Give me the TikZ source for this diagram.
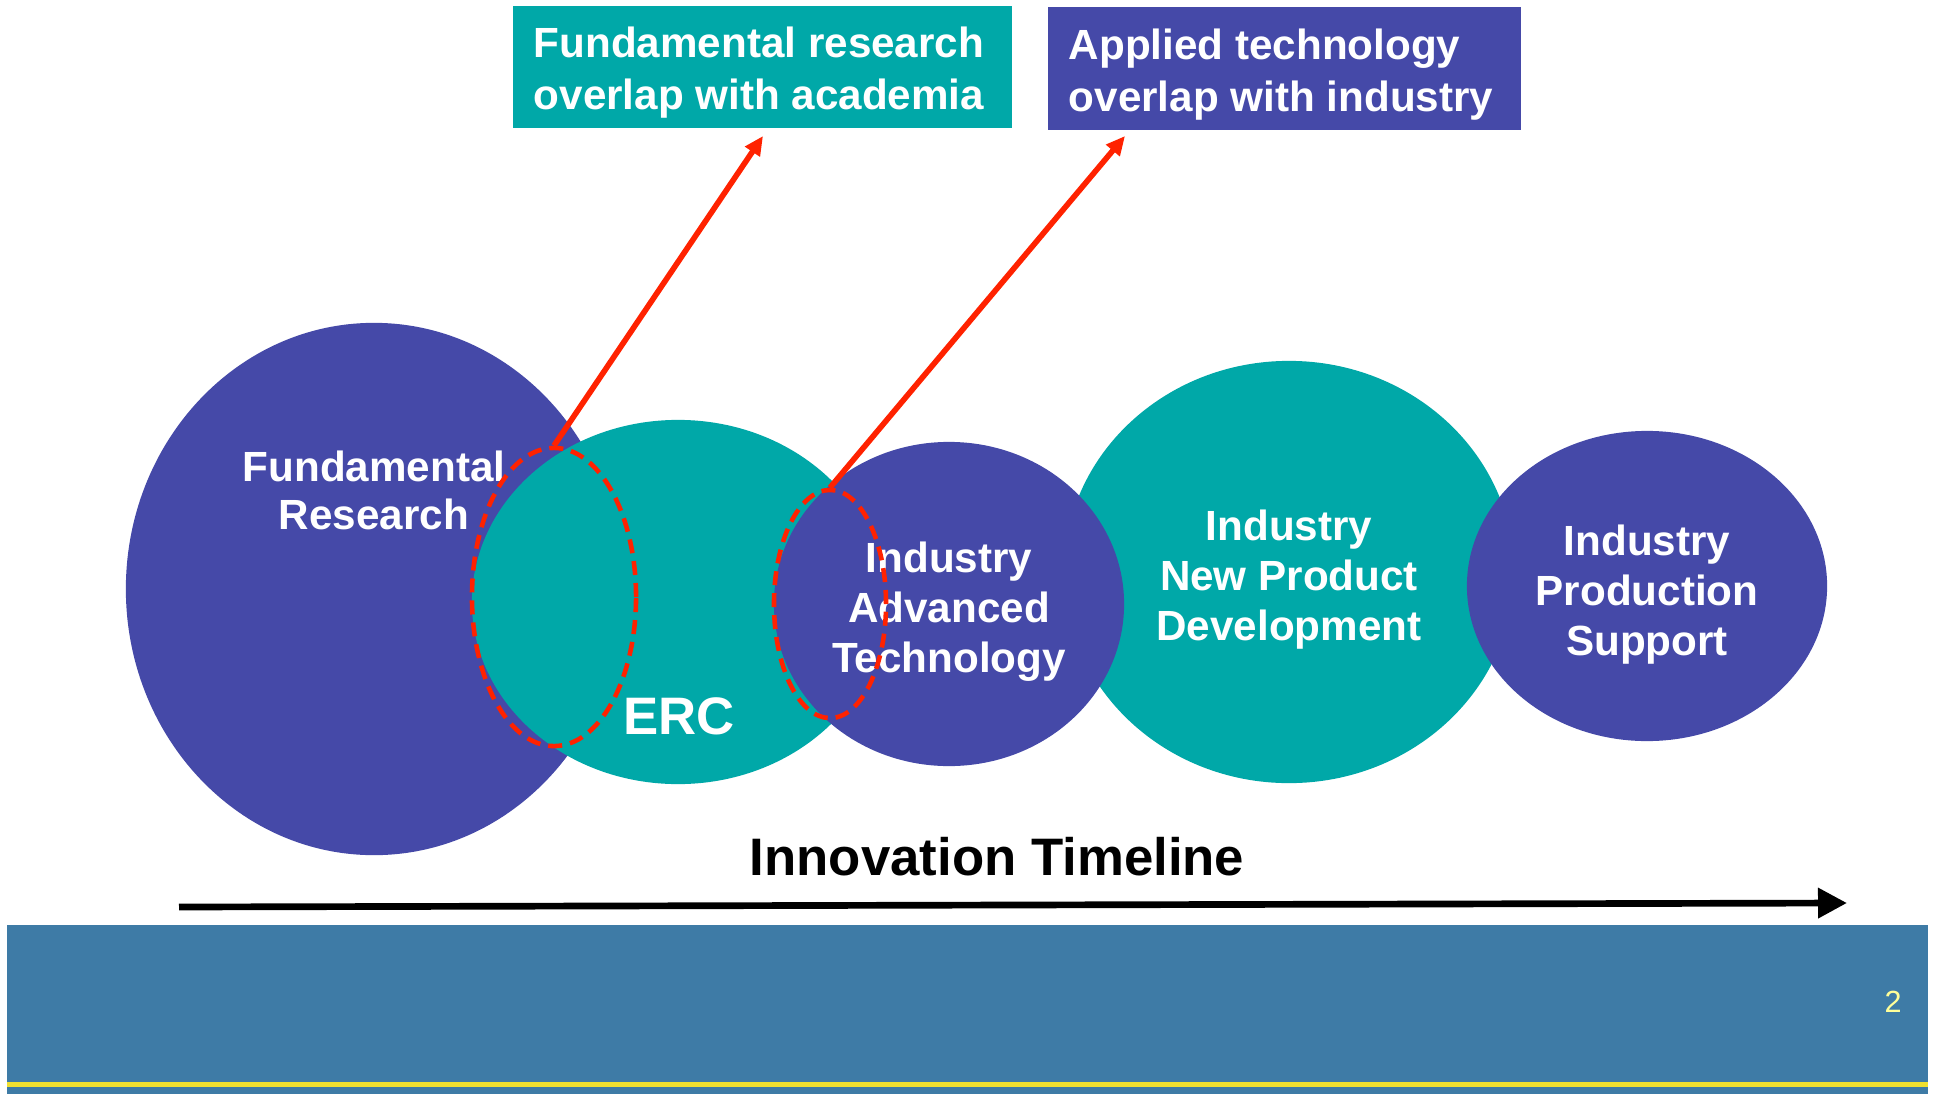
\documentclass[tikz,border=0pt]{standalone}
\usepackage{fontspec}
\setmainfont{Liberation Sans}
\usepackage{tikz}
\usepackage{xcolor}
\usetikzlibrary{arrows.meta, positioning, shapes.geometric}

\definecolor{erpurple}{RGB}{69,73,168}
\definecolor{erteal}{RGB}{0,168,168}
\definecolor{erred}{RGB}{255,34,0}
\definecolor{bandblue}{RGB}{62,123,166}
\definecolor{bandyellow}{RGB}{240,224,48}
\definecolor{pageyellow}{RGB}{255,255,153}

\begin{document}
\begin{tikzpicture}[
  x=0.01cm, y=-0.01cm,
  blob/.style={ellipse, inner sep=0pt},
  tag/.style={text=white, align=center, font=\fontsize{12}{14.2}\selectfont\bfseries},
  zone/.style={ellipse, draw=erred, line width=1.3pt, dash pattern=on 0.14cm off 0.08cm, inner sep=0pt},
  notebox/.style={rectangle, inner sep=0pt, minimum height=1.22cm},
  notetext/.style={text=white, align=left, font=\fontsize{12}{14.8}\selectfont\bfseries},
  redarrow/.style={-{Triangle[length=0.19cm, width=0.17cm]}, erred, line width=1.6pt},
]

\useasboundingbox (0,0) rectangle (1937,1094);

% stages
\node[blob, fill=erpurple, minimum width=4.96cm, minimum height=5.32cm] (fundamental) at (374,589) {};
\node[blob, fill=erteal, minimum width=4.12cm, minimum height=3.64cm] (erc) at (678,602) {};
\node[blob, fill=erteal, minimum width=4.50cm, minimum height=4.22cm] (npd) at (1289,572) {};
\node[blob, fill=erpurple, minimum width=3.50cm, minimum height=3.24cm] (advanced) at (949,604) {};
\node[blob, fill=erpurple, minimum width=3.60cm, minimum height=3.10cm] (production) at (1647,586) {};

\node[tag, font=\fontsize{12}{13.7}\selectfont\bfseries] (fundamental label) at (374,490) {Fundamental\\Research};
\node[tag, font=\fontsize{15}{18}\selectfont\bfseries] (erc label) at (679,716) {ERC};
\node[tag] (npd label) at (1289,579.5) {Industry\\New Product\\Development};
\node[tag] (advanced label) at (949,611.5) {Industry\\Advanced\\Technology};
\node[tag] (production label) at (1647,594.5) {Industry\\Production\\Support};

% overlap zones
\node[zone, minimum width=1.64cm, minimum height=2.98cm] (academia zone) at (554,597) {};
\node[zone, minimum width=1.12cm, minimum height=2.28cm] (industry zone) at (830,604) {};

% notes
\node[notebox, fill=erteal, minimum width=4.99cm] (academia) at (762.5,67) {};
\node[notebox, fill=erpurple, minimum width=4.73cm] (industry) at (1284.5,68.5) {};
\node[notetext] (academia text) at (759,73) {Fundamental research\\overlap with academia};
\node[notetext] (industry text) at (1281,74.5) {Applied technology\\overlap with industry};

\coordinate (academia tip) at (763,136);
\coordinate (industry tip) at (1125,136);
\draw[redarrow] (academia zone.north) -- (academia tip);
\draw[redarrow] (industry zone.north) -- (industry tip);

% timeline
\node[font=\fontsize{15}{18}\selectfont\bfseries] (timeline) at (997,857) {Innovation Timeline};
\coordinate (t start) at (179,907);
\coordinate (t end) at (1847,903);
\draw[line width=1.9pt, -{Triangle[length=0.29cm, width=0.29cm]}] (t start) -- (t end);

% footer band
\fill[bandblue] (7,925) rectangle (1928,1094);
\draw[bandyellow, line width=0.05cm] (7,1084.5) -- (1928,1084.5);
\node[text=pageyellow, font=\fontsize{8.7}{10}\selectfont] (page) at (1893,1002) {2};

\end{tikzpicture}
\end{document}
